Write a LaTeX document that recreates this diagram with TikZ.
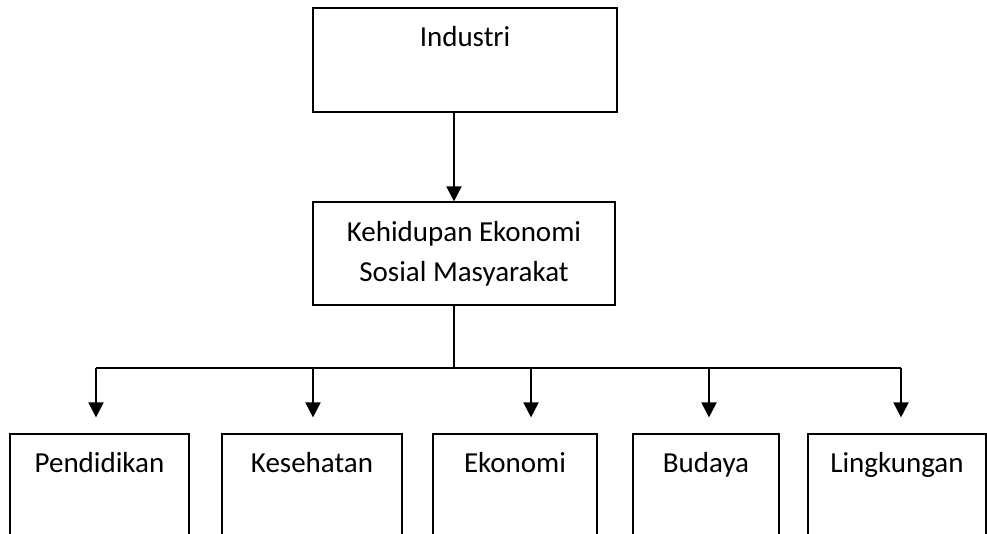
\documentclass[tikz,border=0pt]{standalone}
\usepackage{fontspec}
\setmainfont{Carlito}
\usetikzlibrary{arrows.meta}
\begin{document}
\begin{tikzpicture}[x=1pt,y=-1pt,
  box/.style={draw=black,line width=1.2pt,inner sep=0pt,font=\fontsize{29}{40}\selectfont},
  topbox/.style={box,minimum height=104pt},
  leaf/.style={box,minimum height=150pt},
  toplabel/.style={anchor=base,yshift=-39pt,font=\fontsize{29}{40}\selectfont,inner sep=0pt},
  arr/.style={line width=2pt,-{Triangle[width=15pt,length=15pt]}},
  bus/.style={line width=1.3pt}]
\useasboundingbox (0,0) rectangle (987,533);
\clip (0,0) rectangle (987,533);
% boxes
\node[topbox,minimum width=304pt,label={[toplabel]north:Industri}] (ind) at (465,60) {};
\node[box,minimum width=302pt,minimum height=103pt,align=center] (mid) at (464,253.5) {Kehidupan Ekonomi\\Sosial Masyarakat};
\node[leaf,minimum width=179pt,label={[toplabel]north:Pendidikan}] (pen) at (99.5,509) {};
\node[leaf,minimum width=180pt,label={[toplabel]north:Kesehatan}] (kes) at (312,509) {};
\node[leaf,minimum width=164pt,label={[toplabel]north:Ekonomi}] (eko) at (515,509) {};
\node[leaf,minimum width=146pt,label={[toplabel]north:Budaya}] (bud) at (706,509) {};
\node[leaf,minimum width=178pt,label={[toplabel]north:Lingkungan}] (lin) at (897,509) {};
% junction coordinates
\coordinate (t) at (454,368);
\coordinate (a1) at (96,368);
\coordinate (a2) at (313,368);
\coordinate (a3) at (531,368);
\coordinate (a4) at (709,368);
\coordinate (a5) at (901,368);
% connectors
\draw[arr] (t |- ind.south) -- (t |- mid.north);
\draw[bus] (t |- mid.south) -- (t);
\draw[bus] (a1) -- (a5);
\draw[arr,shorten >=16pt] (a1) -- (a1 |- pen.north);
\draw[arr,shorten >=16pt] (a2) -- (a2 |- kes.north);
\draw[arr,shorten >=16pt] (a3) -- (a3 |- eko.north);
\draw[arr,shorten >=16pt] (a4) -- (a4 |- bud.north);
\draw[arr,shorten >=16pt] (a5) -- (a5 |- lin.north);
\end{tikzpicture}
\end{document}
